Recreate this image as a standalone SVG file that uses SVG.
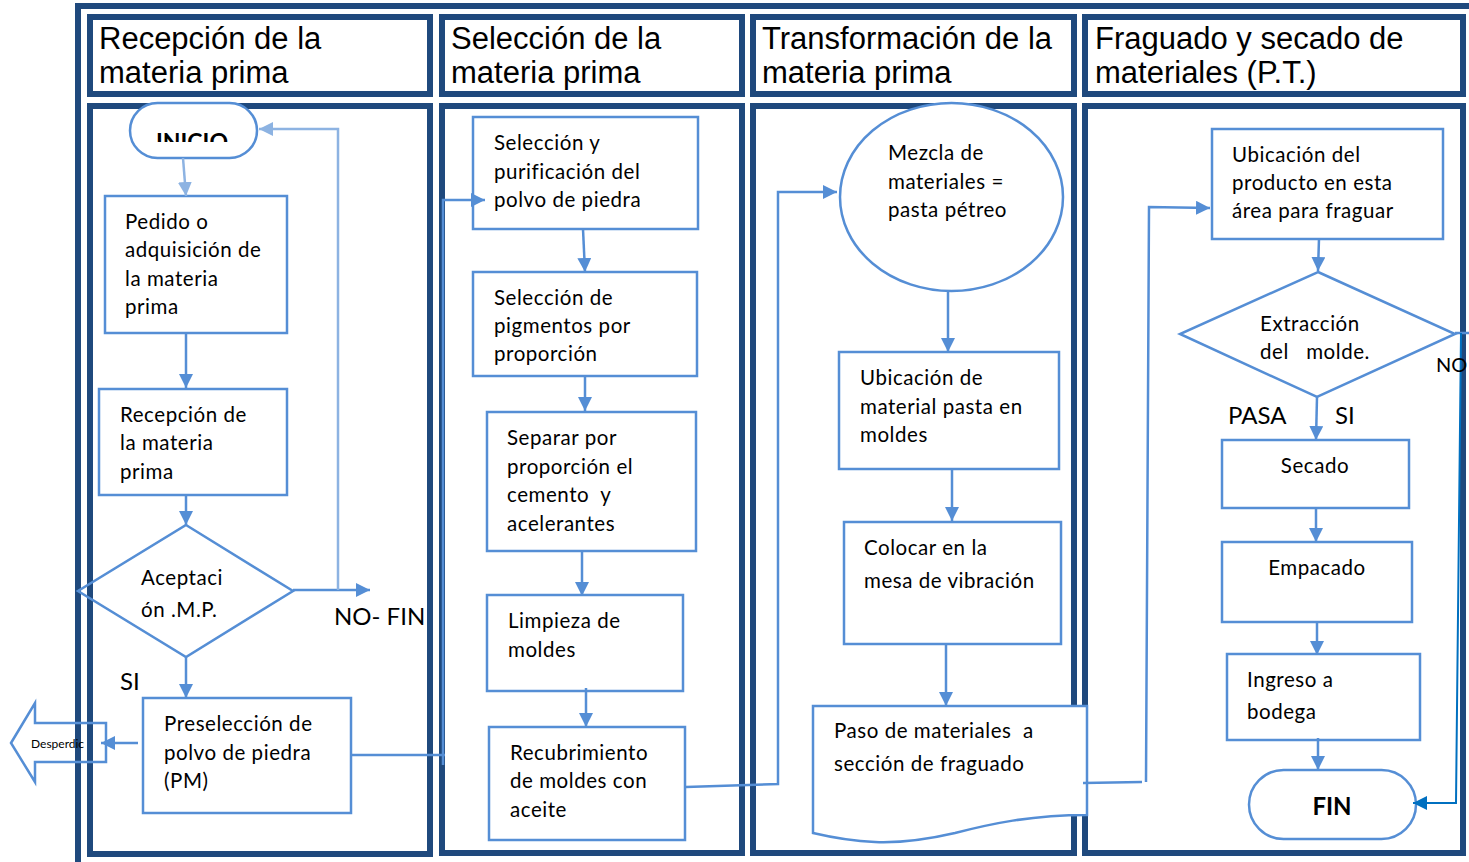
<svg xmlns="http://www.w3.org/2000/svg" width="1469" height="862" viewBox="0 0 1469 862">
<style>
.frame{fill:none;stroke:#1F497D;stroke-width:6}
.node{fill:#fff;stroke:#558ED5;stroke-width:2.5}
.nodeo{fill:none;stroke:#558ED5;stroke-width:2.5}
.hdr{font-family:"Liberation Sans",Arial,sans-serif;font-size:31px;fill:#000}
.t{font-family:Lato,"Noto Sans",sans-serif;font-size:20.5px;letter-spacing:0.55px;fill:#000}
.lbl{font-family:Lato,"Noto Sans",sans-serif;font-size:24px;fill:#000}
.b{font-family:Lato,"Noto Sans",sans-serif;font-weight:bold;fill:#000}
.c{fill:none;stroke:#558ED5;stroke-width:2.5}
.cl{fill:none;stroke:#8DB3E2;stroke-width:2.5}
.cd{fill:none;stroke:#0070C0;stroke-width:2}
</style>
<defs>
<marker id="a" viewBox="0 0 14 14" refX="14" refY="7" markerWidth="14" markerHeight="14" markerUnits="userSpaceOnUse" orient="auto"><path d="M0,0 L14,7 L0,14 Z" fill="#558ED5"/></marker>
<marker id="al" viewBox="0 0 14 14" refX="14" refY="7" markerWidth="14" markerHeight="14" markerUnits="userSpaceOnUse" orient="auto"><path d="M0,0 L14,7 L0,14 Z" fill="#8DB3E2"/></marker>
<marker id="ad" viewBox="0 0 14 14" refX="14" refY="7" markerWidth="14" markerHeight="14" markerUnits="userSpaceOnUse" orient="auto"><path d="M0,0 L14,7 L0,14 Z" fill="#0070C0"/></marker>
<clipPath id="clipInicio"><rect x="120" y="100" width="150" height="42"/></clipPath>
</defs>
<rect width="1469" height="862" fill="#fff"/>

<g id="frames">
<path d="M1469,6 H78 V862" class="frame"/>
<rect x="90" y="17" width="340" height="77" class="frame"/>
<rect x="442" y="17" width="300" height="77" class="frame"/>
<rect x="753" y="17" width="321" height="77" class="frame"/>
<rect x="1085" y="17" width="378" height="77" class="frame"/>
<rect x="90" y="106" width="340" height="748" class="frame"/>
<rect x="442" y="106" width="300" height="747" class="frame"/>
<rect x="753" y="106" width="321" height="747" class="frame"/>
<rect x="1085" y="106" width="378" height="747" class="frame"/>
<text class="hdr" x="99" y="49">Recepción de la</text>
<text class="hdr" x="99" y="83">materia prima</text>
<text class="hdr" x="451" y="49">Selección de la</text>
<text class="hdr" x="451" y="83">materia prima</text>
<text class="hdr" x="762" y="49">Transformación de la</text>
<text class="hdr" x="762" y="83">materia prima</text>
<text class="hdr" x="1095" y="49">Fraguado y secado de</text>
<text class="hdr" x="1095" y="83">materiales (P.T.)</text>
</g>

<g id="inicio">
<rect x="130" y="103" width="127" height="55" rx="27.5" class="node"/>
<text class="b" x="192" y="150" font-size="23" text-anchor="middle" clip-path="url(#clipInicio)">INICIO</text>
</g>
<g id="pedido">
<rect x="105" y="196" width="182" height="137" class="node"/>
<text class="t" x="125" y="229">Pedido o</text>
<text class="t" x="125" y="257">adquisición de</text>
<text class="t" x="125" y="286">la materia</text>
<text class="t" x="125" y="314">prima</text>
</g>
<g id="recepcion">
<rect x="99" y="389" width="188" height="106" class="node"/>
<text class="t" x="120" y="422">Recepción de</text>
<text class="t" x="120" y="450">la materia</text>
<text class="t" x="120" y="479">prima</text>
</g>
<g id="aceptacion">
<polygon points="186,525 293,591 186,657 78,591" class="nodeo"/>
<text class="t" x="141" y="585">Aceptaci</text>
<text class="t" x="141" y="617">ón .M.P.</text>
</g>
<g id="preseleccion">
<rect x="143" y="698" width="208" height="115" class="node"/>
<text class="t" x="164" y="731">Preselección de</text>
<text class="t" x="164" y="760">polvo de piedra</text>
<text class="t" x="164" y="788">(PM)</text>
</g>
<g id="desperdicio">
<polygon points="11,743 35,703 35,723 106,723 106,762 35,762 35,782" class="nodeo"/>
<text x="31" y="748" style="font-family:Lato,'Noto Sans',sans-serif;font-size:12px;fill:#000">Desperdic</text>
</g>

<g id="seleccion-purificacion">
<rect x="473" y="117" width="225" height="112" class="node"/>
<text class="t" x="494" y="150">Selección y</text>
<text class="t" x="494" y="179">purificación del</text>
<text class="t" x="494" y="207">polvo de piedra</text>
</g>
<g id="seleccion-pigmentos">
<rect x="473" y="272" width="224" height="104" class="node"/>
<text class="t" x="494" y="305">Selección de</text>
<text class="t" x="494" y="333">pigmentos por</text>
<text class="t" x="494" y="361">proporción</text>
</g>
<g id="separar">
<rect x="487" y="412" width="209" height="139" class="node"/>
<text class="t" x="507" y="445">Separar por</text>
<text class="t" x="507" y="474">proporción el</text>
<text class="t" x="507" y="502" xml:space="preserve">cemento  y</text>
<text class="t" x="507" y="531">acelerantes</text>
</g>
<g id="limpieza">
<rect x="487" y="595" width="196" height="96" class="node"/>
<text class="t" x="508" y="628">Limpieza de</text>
<text class="t" x="508" y="657">moldes</text>
</g>
<g id="recubrimiento">
<rect x="489" y="727" width="196" height="113" class="node"/>
<text class="t" x="510" y="760">Recubrimiento</text>
<text class="t" x="510" y="788">de moldes con</text>
<text class="t" x="510" y="817">aceite</text>
</g>

<g id="mezcla">
<ellipse cx="951.5" cy="197" rx="111.5" ry="94" class="node"/>
<text class="t" x="888" y="160">Mezcla de</text>
<text class="t" x="888" y="189">materiales =</text>
<text class="t" x="888" y="217">pasta pétreo</text>
</g>
<g id="ubicacion-moldes">
<rect x="839" y="352" width="220" height="117" class="node"/>
<text class="t" x="860" y="385">Ubicación de</text>
<text class="t" x="860" y="414">material pasta en</text>
<text class="t" x="860" y="442">moldes</text>
</g>
<g id="colocar">
<rect x="844" y="522" width="217" height="122" class="node"/>
<text class="t" x="864" y="555">Colocar en la</text>
<text class="t" x="864" y="588">mesa de vibración</text>
</g>
<g id="paso">
<path d="M813,706 L1087,706 L1087,815 C1030,815 990,824 955,833 C925,840 900,843 875,842 C850,841 830,837 813,833 Z" class="node"/>
<text class="t" x="834" y="738" xml:space="preserve">Paso de materiales  a</text>
<text class="t" x="834" y="771">sección de fraguado</text>
</g>

<g id="ubicacion-producto">
<rect x="1212" y="129" width="231" height="110" class="node"/>
<text class="t" x="1232" y="162">Ubicación del</text>
<text class="t" x="1232" y="190">producto en esta</text>
<text class="t" x="1232" y="218">área para fraguar</text>
</g>
<g id="extraccion">
<polygon points="1318,272 1455,334 1317,397 1180,334" class="nodeo"/>
<text class="t" x="1260" y="331">Extracción</text>
<text class="t" x="1260" y="359" xml:space="preserve">del   molde.</text>
</g>
<g id="secado">
<rect x="1222" y="440" width="187" height="68" class="node"/>
<text class="t" x="1315" y="473" text-anchor="middle">Secado</text>
</g>
<g id="empacado">
<rect x="1222" y="542" width="190" height="80" class="node"/>
<text class="t" x="1317" y="575" text-anchor="middle">Empacado</text>
</g>
<g id="ingreso">
<rect x="1227" y="654" width="193" height="86" class="node"/>
<text class="t" x="1247" y="687">Ingreso a</text>
<text class="t" x="1247" y="719">bodega</text>
</g>
<g id="fin">
<rect x="1249" y="770" width="167" height="69" rx="34.5" class="node"/>
<text class="b" x="1332" y="815" font-size="24" text-anchor="middle">FIN</text>
</g>

<g id="connectors">
<line x1="183" y1="158" x2="186" y2="196" class="cl" marker-end="url(#al)"/>
<line x1="186" y1="333" x2="186" y2="388" class="c" marker-end="url(#a)"/>
<line x1="186" y1="495" x2="186" y2="525" class="c" marker-end="url(#a)"/>
<line x1="293" y1="590" x2="370" y2="590" class="c" marker-end="url(#a)"/>
<polyline points="338,590 338,129 259,129" class="cl" marker-end="url(#al)"/>
<line x1="186" y1="657" x2="186" y2="698" class="c" marker-end="url(#a)"/>
<line x1="138" y1="743" x2="101" y2="743" class="c" marker-end="url(#a)"/>
<polyline points="351,755 445,755" class="c"/>
<polyline points="443,765 443,200 485,200" class="c" marker-end="url(#a)"/>
<line x1="583" y1="229" x2="585" y2="272" class="c" marker-end="url(#a)"/>
<line x1="585" y1="376" x2="585" y2="411" class="c" marker-end="url(#a)"/>
<line x1="582" y1="551" x2="582" y2="596" class="c" marker-end="url(#a)"/>
<line x1="586" y1="688" x2="586" y2="727" class="c" marker-end="url(#a)"/>
<polyline points="686,787 778,784 778,192 837,192" class="c" marker-end="url(#a)"/>
<line x1="948" y1="291" x2="948" y2="352" class="c" marker-end="url(#a)"/>
<line x1="952" y1="469" x2="952" y2="521" class="c" marker-end="url(#a)"/>
<line x1="946" y1="644" x2="946" y2="706" class="c" marker-end="url(#a)"/>
<polyline points="1083,783 1142,782" class="c"/>
<polyline points="1146,782 1149,207 1210,208" class="c" marker-end="url(#a)"/>
<line x1="1319" y1="239" x2="1318" y2="271" class="c" marker-end="url(#a)"/>
<line x1="1317" y1="397" x2="1316" y2="440" class="c" marker-end="url(#a)"/>
<line x1="1316" y1="508" x2="1316" y2="542" class="c" marker-end="url(#a)"/>
<line x1="1317" y1="622" x2="1317" y2="655" class="c" marker-end="url(#a)"/>
<line x1="1318" y1="738" x2="1318" y2="770" class="c" marker-end="url(#a)"/>
<line x1="1455" y1="333" x2="1469" y2="333" class="c"/>
<polyline points="1461,333 1456,803 1413,803" class="cd" marker-end="url(#ad)"/>
</g>

<g id="labels">
<text class="lbl" x="334" y="625">NO- FIN</text>
<text class="lbl" x="120" y="690">SI</text>
<text class="lbl" x="1228" y="424">PASA</text>
<text class="lbl" x="1335" y="424">SI</text>
<text class="lbl" x="1436" y="372" style="font-size:20px">NO</text>
</g>
</svg>
